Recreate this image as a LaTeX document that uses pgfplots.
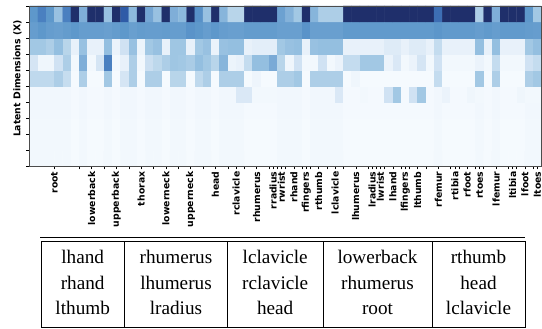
\documentclass[border=0pt]{standalone}
\usepackage{fontspec}
\setmainfont{DejaVu Sans}
\newfontfamily\tabfont{Liberation Serif}
\usepackage{pgfplots}
\pgfplotsset{compat=1.18}
\begin{document}
\begin{tikzpicture}[x=1pt,y=1pt]
\path[use as bounding box] (0,0) rectangle (542,-329);
\begin{axis}[
  at={(29.7pt,-166pt)}, anchor=south west,
  width=511.8pt, height=160pt, scale only axis,
  xmin=-0.5, xmax=61.5, ymin=-0.5, ymax=9.5,
  enlargelimits=false,
  axis on top,
  colormap={myblues}{rgb255=(247,251,255) rgb255=(232,241,250) rgb255=(208,226,243) rgb255=(184,213,234) rgb255=(148,191,224) rgb255=(122,170,214) rgb255=(94,152,203) rgb255=(74,128,192) rgb255=(47,91,167) rgb255=(36,63,128) rgb255=(31,47,107)},
  point meta min=0, point meta max=1,
  xtick={2.5,7,10,13,16,19,22,24.5,27,29,30,31.5,33,34.5,36.5,39,41,42,43.5,45,46.5,49,51,52.5,54,56,58,59.5,61},
  xticklabels={root,lowerback,upperback,thorax,lowerneck,upperneck,head,rclavicle,rhumerus,rradius,rwrist,rhand,rfingers,rthumb,lclavicle,lhumerus,lradius,lwrist,lhand,lfingers,lthumb,rfemur,rtibia,rfoot,rtoes,lfemur,ltibia,lfoot,ltoes},
  minor xtick={5.5,8.5,11.5,14.5,17.5,20.5,23.5,25.5,28.5,29.5,30.5,32.5,33.5,35.5,37.5,40.5,41.5,42.5,44.5,45.5,47.5,50.5,51.5,53.5,54.5,57.5,58.5,60.5},
  ytick={-0.5,0.5,...,9.5}, yticklabels={},
  tick align=outside, tick pos=left,
  major tick length=3.5pt, minor tick length=3.5pt,
  xticklabel style={rotate=90, anchor=east, font=\fontsize{9.3}{10}\selectfont\bfseries, inner sep=2pt},
  ylabel={Latent Dimensions (X)},
  ylabel style={at={(axis description cs:-0.0238,0.547)}, anchor=center, font=\fontsize{9.3}{10}\selectfont\bfseries},
  axis line style={black!70, line width=0.6pt},
  every tick/.style={black, line width=0.5pt},
]
\addplot[matrix plot*, mesh/cols=62, mesh/rows=10, point meta=explicit] table[meta=c, row sep=\\] {
x y c\\
0 0 0.03\\ 1 0 0.03\\ 2 0 0.03\\ 3 0 0.03\\ 4 0 0.03\\ 5 0 0.01\\ 6 0 0.03\\ 7 0 0.01\\ 8 0 0.01\\ 9 0 0.03\\ 10 0 0.01\\ 11 0 0.03\\ 12 0 0.03\\ 13 0 0.01\\ 14 0 0.03\\ 15 0 0.03\\ 16 0 0.01\\ 17 0 0.03\\ 18 0 0.03\\ 19 0 0.01\\ 20 0 0.03\\ 21 0 0.03\\ 22 0 0.01\\ 23 0 0.03\\ 24 0 0.03\\ 25 0 0.03\\ 26 0 0.01\\ 27 0 0.01\\ 28 0 0.01\\ 29 0 0.01\\ 30 0 0.03\\ 31 0 0.03\\ 32 0 0.03\\ 33 0 0.01\\ 34 0 0.03\\ 35 0 0.03\\ 36 0 0.03\\ 37 0 0.03\\ 38 0 0.01\\ 39 0 0.01\\ 40 0 0.01\\ 41 0 0.01\\ 42 0 0.01\\ 43 0 0.01\\ 44 0 0.01\\ 45 0 0.01\\ 46 0 0.01\\ 47 0 0.01\\ 48 0 0.01\\ 49 0 0.03\\ 50 0 0.01\\ 51 0 0.01\\ 52 0 0.01\\ 53 0 0.01\\ 54 0 0.03\\ 55 0 0.01\\ 56 0 0.03\\ 57 0 0.01\\ 58 0 0.01\\ 59 0 0.01\\ 60 0 0.03\\ 61 0 0.03\\
0 1 0.03\\ 1 1 0.03\\ 2 1 0.03\\ 3 1 0.03\\ 4 1 0.03\\ 5 1 0.01\\ 6 1 0.03\\ 7 1 0.01\\ 8 1 0.01\\ 9 1 0.03\\ 10 1 0.01\\ 11 1 0.03\\ 12 1 0.03\\ 13 1 0.01\\ 14 1 0.03\\ 15 1 0.03\\ 16 1 0.01\\ 17 1 0.03\\ 18 1 0.03\\ 19 1 0.01\\ 20 1 0.03\\ 21 1 0.03\\ 22 1 0.01\\ 23 1 0.03\\ 24 1 0.03\\ 25 1 0.03\\ 26 1 0.01\\ 27 1 0.01\\ 28 1 0.01\\ 29 1 0.01\\ 30 1 0.03\\ 31 1 0.03\\ 32 1 0.03\\ 33 1 0.01\\ 34 1 0.03\\ 35 1 0.03\\ 36 1 0.03\\ 37 1 0.03\\ 38 1 0.01\\ 39 1 0.01\\ 40 1 0.01\\ 41 1 0.01\\ 42 1 0.01\\ 43 1 0.01\\ 44 1 0.01\\ 45 1 0.01\\ 46 1 0.01\\ 47 1 0.01\\ 48 1 0.01\\ 49 1 0.03\\ 50 1 0.01\\ 51 1 0.01\\ 52 1 0.01\\ 53 1 0.01\\ 54 1 0.03\\ 55 1 0.01\\ 56 1 0.03\\ 57 1 0.01\\ 58 1 0.01\\ 59 1 0.01\\ 60 1 0.03\\ 61 1 0.03\\
0 2 0.03\\ 1 2 0.03\\ 2 2 0.03\\ 3 2 0.03\\ 4 2 0.03\\ 5 2 0.01\\ 6 2 0.03\\ 7 2 0.01\\ 8 2 0.01\\ 9 2 0.03\\ 10 2 0.01\\ 11 2 0.03\\ 12 2 0.03\\ 13 2 0.01\\ 14 2 0.03\\ 15 2 0.03\\ 16 2 0.01\\ 17 2 0.03\\ 18 2 0.03\\ 19 2 0.01\\ 20 2 0.03\\ 21 2 0.03\\ 22 2 0.01\\ 23 2 0.03\\ 24 2 0.03\\ 25 2 0.03\\ 26 2 0.01\\ 27 2 0.01\\ 28 2 0.01\\ 29 2 0.01\\ 30 2 0.03\\ 31 2 0.03\\ 32 2 0.03\\ 33 2 0.01\\ 34 2 0.03\\ 35 2 0.03\\ 36 2 0.03\\ 37 2 0.03\\ 38 2 0.01\\ 39 2 0.01\\ 40 2 0.01\\ 41 2 0.01\\ 42 2 0.01\\ 43 2 0.01\\ 44 2 0.01\\ 45 2 0.01\\ 46 2 0.01\\ 47 2 0.01\\ 48 2 0.01\\ 49 2 0.03\\ 50 2 0.01\\ 51 2 0.01\\ 52 2 0.01\\ 53 2 0.01\\ 54 2 0.03\\ 55 2 0.01\\ 56 2 0.03\\ 57 2 0.01\\ 58 2 0.01\\ 59 2 0.01\\ 60 2 0.03\\ 61 2 0.03\\
0 3 0.04\\ 1 3 0.04\\ 2 3 0.04\\ 3 3 0.04\\ 4 3 0.04\\ 5 3 0.02\\ 6 3 0.04\\ 7 3 0.02\\ 8 3 0.02\\ 9 3 0.04\\ 10 3 0.02\\ 11 3 0.04\\ 12 3 0.04\\ 13 3 0.02\\ 14 3 0.04\\ 15 3 0.04\\ 16 3 0.02\\ 17 3 0.04\\ 18 3 0.04\\ 19 3 0.02\\ 20 3 0.04\\ 21 3 0.04\\ 22 3 0.02\\ 23 3 0.04\\ 24 3 0.04\\ 25 3 0.04\\ 26 3 0.02\\ 27 3 0.02\\ 28 3 0.02\\ 29 3 0.02\\ 30 3 0.04\\ 31 3 0.04\\ 32 3 0.04\\ 33 3 0.02\\ 34 3 0.04\\ 35 3 0.04\\ 36 3 0.04\\ 37 3 0.04\\ 38 3 0.02\\ 39 3 0.02\\ 40 3 0.02\\ 41 3 0.02\\ 42 3 0.02\\ 43 3 0.02\\ 44 3 0.02\\ 45 3 0.02\\ 46 3 0.02\\ 47 3 0.02\\ 48 3 0.02\\ 49 3 0.04\\ 50 3 0.02\\ 51 3 0.02\\ 52 3 0.02\\ 53 3 0.02\\ 54 3 0.04\\ 55 3 0.02\\ 56 3 0.04\\ 57 3 0.02\\ 58 3 0.02\\ 59 3 0.02\\ 60 3 0.04\\ 61 3 0.04\\
0 4 0.04\\ 1 4 0.04\\ 2 4 0.04\\ 3 4 0.04\\ 4 4 0.04\\ 5 4 0.02\\ 6 4 0.04\\ 7 4 0.02\\ 8 4 0.02\\ 9 4 0.04\\ 10 4 0.02\\ 11 4 0.04\\ 12 4 0.04\\ 13 4 0.02\\ 14 4 0.04\\ 15 4 0.04\\ 16 4 0.02\\ 17 4 0.04\\ 18 4 0.04\\ 19 4 0.02\\ 20 4 0.04\\ 21 4 0.04\\ 22 4 0.02\\ 23 4 0.04\\ 24 4 0.04\\ 25 4 0.16\\ 26 4 0.16\\ 27 4 0.03\\ 28 4 0.03\\ 29 4 0.03\\ 30 4 0.04\\ 31 4 0.04\\ 32 4 0.04\\ 33 4 0.02\\ 34 4 0.04\\ 35 4 0.04\\ 36 4 0.04\\ 37 4 0.16\\ 38 4 0.02\\ 39 4 0.02\\ 40 4 0.03\\ 41 4 0.02\\ 42 4 0.02\\ 43 4 0.2\\ 44 4 0.36\\ 45 4 0.02\\ 46 4 0.2\\ 47 4 0.36\\ 48 4 0.02\\ 49 4 0.04\\ 50 4 0.08\\ 51 4 0.02\\ 52 4 0.02\\ 53 4 0.05\\ 54 4 0.03\\ 55 4 0.02\\ 56 4 0.04\\ 57 4 0.02\\ 58 4 0.02\\ 59 4 0.05\\ 60 4 0.03\\ 61 4 0.03\\
0 5 0.27\\ 1 5 0.27\\ 2 5 0.27\\ 3 5 0.33\\ 4 5 0.24\\ 5 5 0.01\\ 6 5 0.33\\ 7 5 0.01\\ 8 5 0.01\\ 9 5 0.36\\ 10 5 0.01\\ 11 5 0.18\\ 12 5 0.33\\ 13 5 0.01\\ 14 5 0.33\\ 15 5 0.33\\ 16 5 0.01\\ 17 5 0.3\\ 18 5 0.3\\ 19 5 0.01\\ 20 5 0.27\\ 21 5 0.33\\ 22 5 0.01\\ 23 5 0.33\\ 24 5 0.33\\ 25 5 0.33\\ 26 5 0.01\\ 27 5 0.06\\ 28 5 0.01\\ 29 5 0.01\\ 30 5 0.33\\ 31 5 0.33\\ 32 5 0.36\\ 33 5 0.01\\ 34 5 0.33\\ 35 5 0.33\\ 36 5 0.33\\ 37 5 0.33\\ 38 5 0.01\\ 39 5 0.05\\ 40 5 0.01\\ 41 5 0.01\\ 42 5 0.01\\ 43 5 0.01\\ 44 5 0.01\\ 45 5 0.01\\ 46 5 0.01\\ 47 5 0.01\\ 48 5 0.01\\ 49 5 0.25\\ 50 5 0.01\\ 51 5 0.01\\ 52 5 0.01\\ 53 5 0.01\\ 54 5 0.36\\ 55 5 0.01\\ 56 5 0.33\\ 57 5 0.01\\ 58 5 0.01\\ 59 5 0.01\\ 60 5 0.33\\ 61 5 0.36\\
0 6 0.18\\ 1 6 0.05\\ 2 6 0.05\\ 3 6 0.2\\ 4 6 0.33\\ 5 6 0.03\\ 6 6 0.48\\ 7 6 0.03\\ 8 6 0.18\\ 9 6 0.7\\ 10 6 0.03\\ 11 6 0.1\\ 12 6 0.33\\ 13 6 0.03\\ 14 6 0.22\\ 15 6 0.28\\ 16 6 0.33\\ 17 6 0.37\\ 18 6 0.36\\ 19 6 0.34\\ 20 6 0.4\\ 21 6 0.36\\ 22 6 0.3\\ 23 6 0.45\\ 24 6 0.07\\ 25 6 0.1\\ 26 6 0.25\\ 27 6 0.4\\ 28 6 0.4\\ 29 6 0.5\\ 30 6 0.3\\ 31 6 0.05\\ 32 6 0.2\\ 33 6 0.03\\ 34 6 0.03\\ 35 6 0.2\\ 36 6 0.03\\ 37 6 0.08\\ 38 6 0.25\\ 39 6 0.25\\ 40 6 0.36\\ 41 6 0.36\\ 42 6 0.36\\ 43 6 0.08\\ 44 6 0.16\\ 45 6 0.03\\ 46 6 0.08\\ 47 6 0.18\\ 48 6 0.03\\ 49 6 0.2\\ 50 6 0.03\\ 51 6 0.03\\ 52 6 0.03\\ 53 6 0.03\\ 54 6 0.08\\ 55 6 0.03\\ 56 6 0.25\\ 57 6 0.03\\ 58 6 0.03\\ 59 6 0.03\\ 60 6 0.2\\ 61 6 0.25\\
0 7 0.36\\ 1 7 0.36\\ 2 7 0.33\\ 3 7 0.4\\ 4 7 0.3\\ 5 7 0.1\\ 6 7 0.39\\ 7 7 0.1\\ 8 7 0.1\\ 9 7 0.4\\ 10 7 0.08\\ 11 7 0.2\\ 12 7 0.39\\ 13 7 0.07\\ 14 7 0.36\\ 15 7 0.39\\ 16 7 0.1\\ 17 7 0.37\\ 18 7 0.37\\ 19 7 0.1\\ 20 7 0.36\\ 21 7 0.39\\ 22 7 0.08\\ 23 7 0.39\\ 24 7 0.4\\ 25 7 0.4\\ 26 7 0.1\\ 27 7 0.12\\ 28 7 0.12\\ 29 7 0.12\\ 30 7 0.36\\ 31 7 0.39\\ 32 7 0.4\\ 33 7 0.1\\ 34 7 0.39\\ 35 7 0.4\\ 36 7 0.4\\ 37 7 0.4\\ 38 7 0.1\\ 39 7 0.1\\ 40 7 0.1\\ 41 7 0.1\\ 42 7 0.1\\ 43 7 0.14\\ 44 7 0.14\\ 45 7 0.1\\ 46 7 0.14\\ 47 7 0.14\\ 48 7 0.1\\ 49 7 0.25\\ 50 7 0.1\\ 51 7 0.1\\ 52 7 0.1\\ 53 7 0.1\\ 54 7 0.4\\ 55 7 0.1\\ 56 7 0.4\\ 57 7 0.1\\ 58 7 0.1\\ 59 7 0.1\\ 60 7 0.36\\ 61 7 0.4\\
0 8 0.57\\ 1 8 0.6\\ 2 8 0.57\\ 3 8 0.56\\ 4 8 0.58\\ 5 8 0.6\\ 6 8 0.57\\ 7 8 0.57\\ 8 8 0.57\\ 9 8 0.56\\ 10 8 0.58\\ 11 8 0.6\\ 12 8 0.56\\ 13 8 0.58\\ 14 8 0.57\\ 15 8 0.57\\ 16 8 0.58\\ 17 8 0.57\\ 18 8 0.57\\ 19 8 0.62\\ 20 8 0.6\\ 21 8 0.57\\ 22 8 0.6\\ 23 8 0.57\\ 24 8 0.56\\ 25 8 0.56\\ 26 8 0.58\\ 27 8 0.58\\ 28 8 0.58\\ 29 8 0.58\\ 30 8 0.56\\ 31 8 0.56\\ 32 8 0.56\\ 33 8 0.62\\ 34 8 0.56\\ 35 8 0.56\\ 36 8 0.56\\ 37 8 0.56\\ 38 8 0.59\\ 39 8 0.59\\ 40 8 0.59\\ 41 8 0.59\\ 42 8 0.59\\ 43 8 0.59\\ 44 8 0.59\\ 45 8 0.59\\ 46 8 0.59\\ 47 8 0.59\\ 48 8 0.59\\ 49 8 0.61\\ 50 8 0.59\\ 51 8 0.59\\ 52 8 0.59\\ 53 8 0.59\\ 54 8 0.57\\ 55 8 0.59\\ 56 8 0.57\\ 57 8 0.59\\ 58 8 0.59\\ 59 8 0.59\\ 60 8 0.58\\ 61 8 0.57\\
0 9 0.6\\ 1 9 0.7\\ 2 9 0.6\\ 3 9 0.39\\ 4 9 0.7\\ 5 9 1\\ 6 9 0.48\\ 7 9 1\\ 8 9 1\\ 9 9 0.39\\ 10 9 1\\ 11 9 0.8\\ 12 9 0.43\\ 13 9 1\\ 14 9 0.52\\ 15 9 0.39\\ 16 9 1\\ 17 9 0.48\\ 18 9 0.43\\ 19 9 1\\ 20 9 0.63\\ 21 9 0.39\\ 22 9 1\\ 23 9 0.45\\ 24 9 0.3\\ 25 9 0.3\\ 26 9 1\\ 27 9 1\\ 28 9 1\\ 29 9 1\\ 30 9 0.55\\ 31 9 0.46\\ 32 9 0.36\\ 33 9 1\\ 34 9 0.45\\ 35 9 0.33\\ 36 9 0.33\\ 37 9 0.33\\ 38 9 1\\ 39 9 1\\ 40 9 1\\ 41 9 1\\ 42 9 1\\ 43 9 1\\ 44 9 1\\ 45 9 1\\ 46 9 1\\ 47 9 1\\ 48 9 1\\ 49 9 0.75\\ 50 9 1\\ 51 9 1\\ 52 9 1\\ 53 9 1\\ 54 9 0.33\\ 55 9 1\\ 56 9 0.48\\ 57 9 1\\ 58 9 1\\ 59 9 1\\ 60 9 0.6\\ 61 9 0.36\\
};
\end{axis}
% table below the heatmap
\draw[line width=0.9pt] (40,-237.3) -- (525,-237.3);
\draw[line width=0.7pt] (41,-241.7) rectangle (525,-327);
\foreach \xx in {124.4,227.5,323,432} {\draw[line width=0.7pt] (\xx,-241.7) -- (\xx,-327);}
\begin{scope}[every node/.style={anchor=base, inner sep=0pt, font=\tabfont\fontsize{19.2}{23}\selectfont}]
\node at (82.7,-263.3) {lhand};
\node at (82.7,-289) {rhand};
\node at (82.7,-315) {lthumb};
\node at (176,-263.3) {rhumerus};
\node at (176,-289) {lhumerus};
\node at (176,-315) {lradius};
\node at (275.2,-263.3) {lclavicle};
\node at (275.2,-289) {rclavicle};
\node at (275.2,-315) {head};
\node at (377.5,-263.3) {lowerback};
\node at (377.5,-289) {rhumerus};
\node at (377.5,-315) {root};
\node at (478.5,-263.3) {rthumb};
\node at (478.5,-289) {head};
\node at (478.5,-315) {lclavicle};
\end{scope}
\end{tikzpicture}
\end{document}
